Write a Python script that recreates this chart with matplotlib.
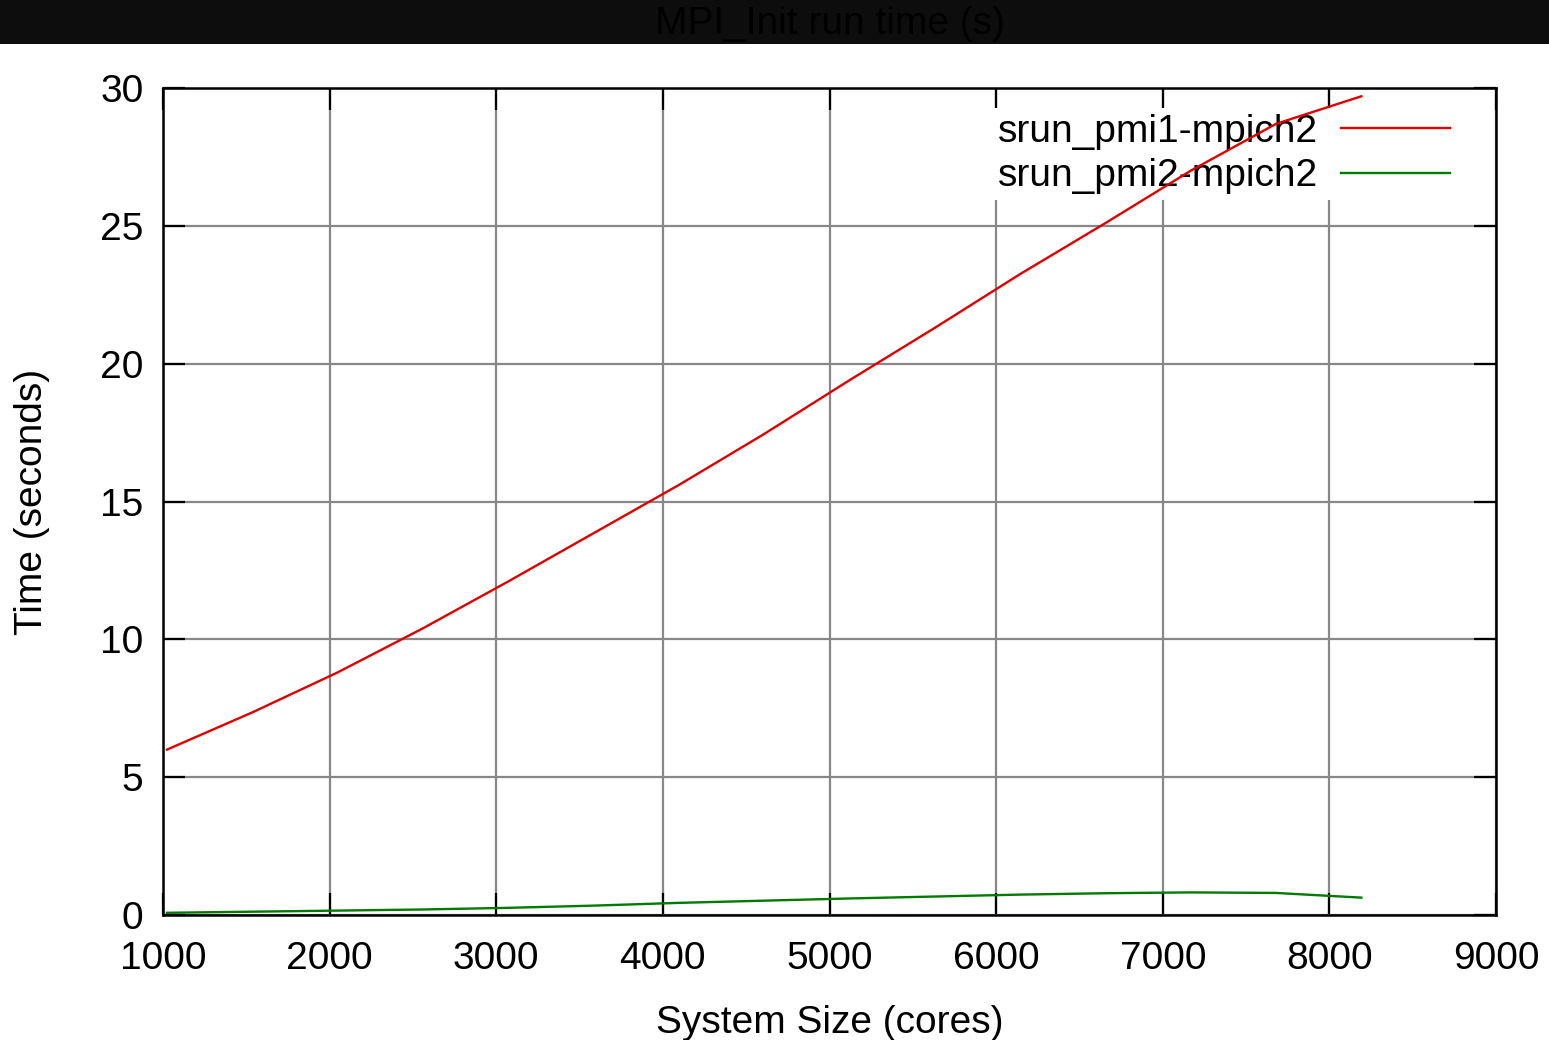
import matplotlib.pyplot as plt
from matplotlib.patches import Rectangle

# system sizes (cores) and MPI_Init times (s)
cores = [1024, 1536, 2048, 2560, 3072, 3584, 4096, 4608, 5120, 5632,
         6144, 6656, 7168, 7680, 8192]
pmi1_time = [6.0, 7.35, 8.8, 10.4, 12.1, 13.85, 15.6, 17.45, 19.4, 21.3,
             23.25, 25.1, 27.0, 28.7, 29.7]
pmi2_time = [0.08, 0.12, 0.16, 0.2, 0.26, 0.34, 0.44, 0.52, 0.6, 0.67,
             0.74, 0.79, 0.82, 0.8, 0.63]
series_names = ['srun_pmi1-mpich2', 'srun_pmi2-mpich2']

plt.rcParams['font.family'] = ['Liberation Sans', 'DejaVu Sans']
fs = 28

fig = plt.figure(figsize=(15.49, 10.40), dpi=100)
ax = fig.add_axes([163 / 1549, 1 - 915 / 1040, 1333 / 1549, 827 / 1040])

# dark title bar
fig.patches.append(Rectangle((0, 1 - 44 / 1040), 1, 44 / 1040, transform=fig.transFigure,
                             facecolor='#0d0d0d', edgecolor='none', zorder=0))
fig.text(830 / 1549, 1 - 24 / 1040, 'MPI_Init run time (s)', ha='center', va='center',
         fontsize=fs, color='#000000')

ax.plot(cores, pmi1_time, color='#e00000', lw=1.7, label=series_names[0], zorder=3)
ax.plot(cores, pmi2_time, color='#007a00', lw=1.7, label=series_names[1], zorder=3)

ax.set_xlim(1000, 9000)
ax.set_ylim(0, 30)
ax.set_xticks(range(1000, 9001, 1000))
ax.set_yticks(range(0, 31, 5))
ax.grid(True, color='#888888', lw=1.6)
ax.set_axisbelow(True)

ax.tick_params(direction='in', length=16, width=1.6, top=True, right=True,
               labelsize=fs, colors='black')
ax.tick_params(axis='x', pad=19)
ax.tick_params(axis='y', pad=14)
for s in ax.spines.values():
    s.set_linewidth(1.8)

ax.set_xlabel('System Size (cores)', fontsize=fs, labelpad=20)
ax.set_ylabel('Time (seconds)', fontsize=fs, labelpad=36)

leg = ax.legend(loc='upper right', bbox_to_anchor=(0.97, 0.976), markerfirst=False,
                fontsize=fs, frameon=True, fancybox=False, framealpha=1,
                facecolor='white', edgecolor='none', handlelength=2.8,
                handletextpad=0.6, labelspacing=0.22, borderpad=0.15,
                borderaxespad=0)
leg.set_zorder(2.5)

fig.savefig('out.png', dpi=100)
